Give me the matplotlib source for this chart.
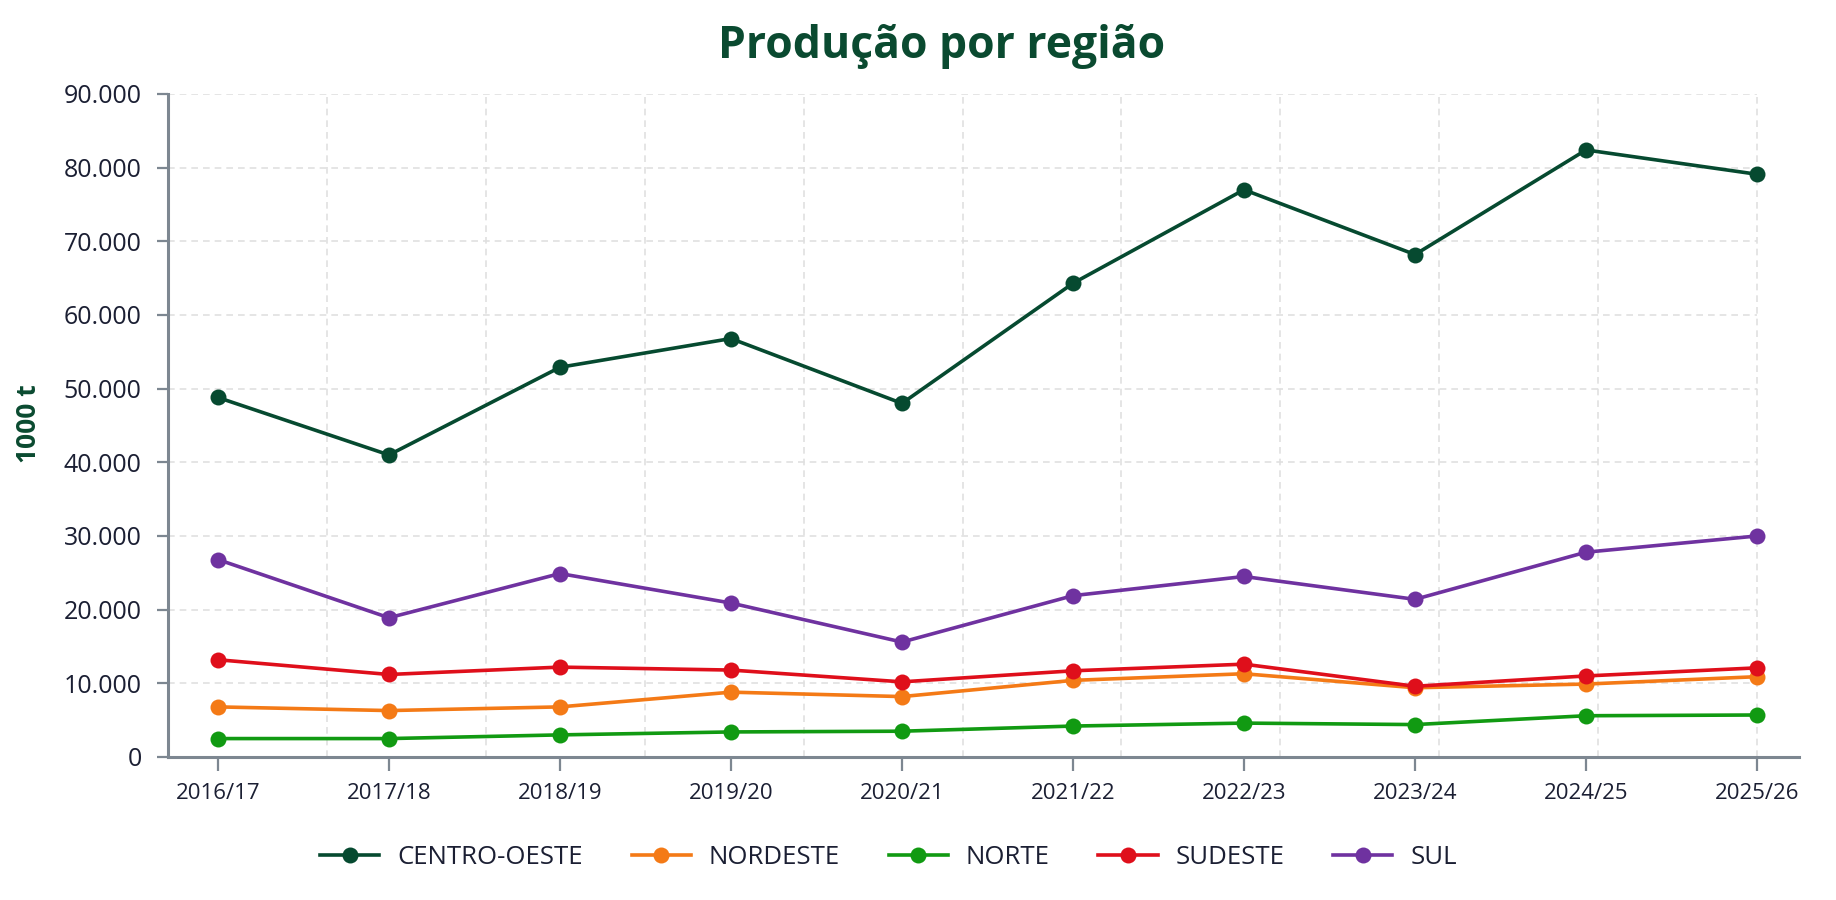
import numpy as np
import matplotlib
matplotlib.use("Agg")
import matplotlib.pyplot as plt
from matplotlib.ticker import FuncFormatter

plt.rcParams['font.family'] = ['Open Sans', 'DejaVu Sans']

# safras e producao por regiao (1000 t)
safras = ["2016/17", "2017/18", "2018/19", "2019/20", "2020/21",
          "2021/22", "2022/23", "2023/24", "2024/25", "2025/26"]
centro_oeste = [48800, 41000, 52900, 56800, 48000, 64300, 77000, 68200, 82400, 79100]
nordeste = [6800, 6300, 6800, 8800, 8200, 10400, 11300, 9400, 9900, 10900]
norte = [2500, 2500, 3000, 3400, 3500, 4200, 4600, 4400, 5600, 5700]
sudeste = [13200, 11200, 12200, 11800, 10200, 11700, 12600, 9600, 11000, 12100]
sul = [26800, 18900, 24900, 20900, 15600, 21900, 24500, 21400, 27800, 30000]

regioes = ["CENTRO-OESTE", "NORDESTE", "NORTE", "SUDESTE", "SUL"]
series = [centro_oeste, nordeste, norte, sudeste, sul]
cores = ["#064a30", "#f47a16", "#119a12", "#df0f1b", "#6f32a0"]

dark_green = "#0a4a30"
text_col = "#1b1f33"
axis_col = "#7d8791"
grid_col = "#e0e0e0"

fig = plt.figure(figsize=(18.36, 9), dpi=100)
ax = fig.add_axes([0.0915, 0.1589, 0.8884, 0.7367])

x = np.arange(len(safras))
xmin, xmax = -0.292, 9.246
ymax = 90000

# grade tracejada
yticks = np.arange(0, ymax + 1, 10000)
ax.hlines(yticks[1:], xmin, x[-1], colors=grid_col, linestyles=(0, (4, 3)),
          linewidth=1.2, zorder=0)
ax.vlines(np.linspace(xmin, x[-1], 11)[1:], 0, ymax, colors=grid_col,
          linestyles=(0, (4, 3)), linewidth=1.2, zorder=0)

for nome, vals, cor in zip(regioes, series, cores):
    ax.plot(x, vals, color=cor, linewidth=2.6, marker="o", markersize=11.5,
            markeredgewidth=0, label=nome, zorder=3)

ax.set_xlim(xmin, xmax)
ax.set_ylim(0, ymax)
ax.set_xticks(x)
ax.set_xticklabels(safras)
ax.set_yticks(yticks)
ax.yaxis.set_major_formatter(FuncFormatter(lambda v, p: f"{int(v):,}".replace(",", ".")))

for s in ["top", "right"]:
    ax.spines[s].set_visible(False)
for s in ["left", "bottom"]:
    ax.spines[s].set_color(axis_col)
    ax.spines[s].set_linewidth(2.2)

ax.tick_params(axis="y", length=8, width=1.6, color=axis_col, pad=11,
               labelsize=18, labelcolor=text_col)
ax.tick_params(axis="x", length=10, width=1.6, color=axis_col, pad=9,
               labelsize=16, labelcolor=text_col)

fig.text(0.513, 1 - 58 / 900, "Produção por região", ha="center", va="baseline",
         fontsize=32, fontweight="bold", color=dark_green)
fig.text(29 / 1836, 1 - 424 / 900, "1000 t", ha="center", va="center",
         rotation=90, fontsize=19, fontweight="bold", color=dark_green)

leg = fig.legend(loc="center", bbox_to_anchor=(0.484, 0.047), ncol=5,
                 frameon=False, fontsize=18.5, handlelength=2.3,
                 handletextpad=0.7, columnspacing=1.9)
for t in leg.get_texts():
    t.set_color(text_col)

fig.savefig("out.png", dpi=100, facecolor="white")
